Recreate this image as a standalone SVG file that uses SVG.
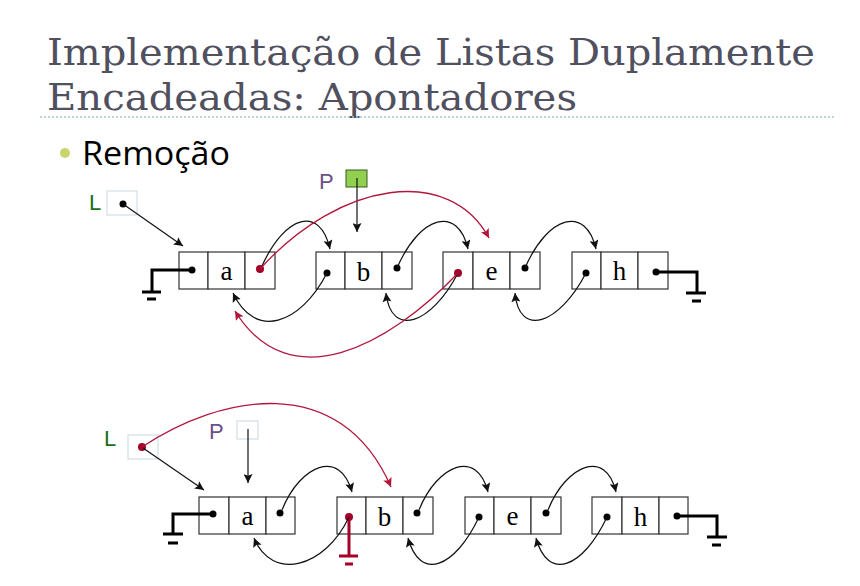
<svg xmlns="http://www.w3.org/2000/svg" width="860" height="586" viewBox="0 0 860 586">
<style>
.title{font-family:"DejaVu Serif","Liberation Serif",serif;font-size:38px;fill:#50505f}
.cell{fill:#fff;stroke:#333;stroke-width:1.2}
.val{font-family:"Liberation Serif","Times New Roman",serif;font-size:27px;fill:#000;text-anchor:middle}
.lnk{fill:none;stroke:#111;stroke-width:1.2}
.rlnk{fill:none;stroke:#b3163b;stroke-width:1.3}
.gnd{fill:none;stroke:#000;stroke-width:3}
.rgnd{fill:none;stroke:#a5002a;stroke-width:3}
.dot{fill:#000}
.rdot{fill:#a5002a}
.lbl{font-family:"Liberation Sans","Open Sans",sans-serif;font-size:22px}
.vbox{fill:none;stroke:#d3dee6;stroke-width:1.2}
</style>
<defs>
<marker id="ab" viewBox="0 0 10 10" refX="10" refY="5" markerWidth="9" markerHeight="9" markerUnits="userSpaceOnUse" orient="auto"><path d="M0,0 L10,5 L0,10 L2,5 z" fill="#111"/></marker>
<marker id="ar" viewBox="0 0 10 10" refX="10" refY="5" markerWidth="9" markerHeight="9" markerUnits="userSpaceOnUse" orient="auto"><path d="M0,0 L10,5 L0,10 L2,5 z" fill="#b3163b"/></marker>
</defs>
<rect width="860" height="586" fill="#fff"/>
<text class="title" x="47" y="65" textLength="768" lengthAdjust="spacingAndGlyphs">Implementação de Listas Duplamente</text>
<text class="title" x="47" y="110" textLength="530" lengthAdjust="spacingAndGlyphs">Encadeadas: Apontadores</text>
<line x1="40" y1="117" x2="836" y2="117" stroke="#a9c2d8" stroke-width="1.5" stroke-dasharray="2,2"/>
<circle cx="65" cy="153" r="5" fill="#c8d56e"/>
<text x="82" y="165" font-family="'Open Sans','Liberation Sans',sans-serif" font-size="33" fill="#000" textLength="148" lengthAdjust="spacingAndGlyphs">Remoção</text>

<!-- top diagram nodes -->
<g id="t-a"><rect class="cell" x="179" y="252" width="29" height="37"/><rect class="cell" x="208" y="252" width="37" height="37"/><rect class="cell" x="245" y="252" width="30" height="37"/><text class="val" x="226.5" y="280">a</text><circle class="dot" cx="192" cy="270" r="3.5"/><circle class="rdot" cx="260" cy="269" r="4"/></g>
<g id="t-b"><rect class="cell" x="316" y="252" width="29" height="37"/><rect class="cell" x="345" y="252" width="37" height="37"/><rect class="cell" x="382" y="252" width="30" height="37"/><text class="val" x="363.5" y="281">b</text><circle class="dot" cx="327" cy="273" r="3.5"/><circle class="dot" cx="397" cy="268" r="3.5"/></g>
<g id="t-e"><rect class="cell" x="443" y="252" width="30" height="37"/><rect class="cell" x="473" y="252" width="37" height="37"/><rect class="cell" x="510" y="252" width="30" height="37"/><text class="val" x="491.5" y="280">e</text><circle class="rdot" cx="458" cy="273" r="4"/><circle class="dot" cx="525" cy="268" r="3.5"/></g>
<g id="t-h"><rect class="cell" x="572" y="252" width="29" height="37"/><rect class="cell" x="601" y="252" width="37" height="37"/><rect class="cell" x="638" y="252" width="30" height="37"/><text class="val" x="619.5" y="280">h</text><circle class="dot" cx="586" cy="273" r="3.5"/><circle class="dot" cx="656" cy="272" r="3.5"/></g>
<g id="t-L"><text class="lbl" x="89" y="210" fill="#1a6e1a">L</text><rect class="vbox" x="107" y="191" width="30" height="24"/><circle class="dot" cx="123" cy="204" r="3.5"/></g>
<g id="t-P"><text class="lbl" x="319" y="189" fill="#6b4f8a">P</text><rect x="346" y="170" width="21" height="17" fill="#92d050" stroke="#3a5a20" stroke-width="1"/></g>

<!-- bottom diagram nodes -->
<g id="b-a"><rect class="cell" x="199" y="497" width="30" height="37"/><rect class="cell" x="229" y="497" width="37" height="37"/><rect class="cell" x="266" y="497" width="29" height="37"/><text class="val" x="247.5" y="525">a</text><circle class="dot" cx="213" cy="514" r="3.5"/><circle class="dot" cx="280" cy="513" r="3.5"/></g>
<g id="b-b"><rect class="cell" x="337" y="497" width="29" height="37"/><rect class="cell" x="366" y="497" width="37" height="37"/><rect class="cell" x="403" y="497" width="30" height="37"/><text class="val" x="384.5" y="526">b</text><circle class="rdot" cx="349" cy="517" r="4"/><circle class="dot" cx="417" cy="513" r="3.5"/></g>
<g id="b-e"><rect class="cell" x="465" y="497" width="29" height="37"/><rect class="cell" x="494" y="497" width="37" height="37"/><rect class="cell" x="531" y="497" width="30" height="37"/><text class="val" x="512.5" y="525">e</text><circle class="dot" cx="479" cy="517" r="3.5"/><circle class="dot" cx="546" cy="513" r="3.5"/></g>
<g id="b-h"><rect class="cell" x="592" y="497" width="30" height="37"/><rect class="cell" x="622" y="497" width="37" height="37"/><rect class="cell" x="659" y="497" width="29" height="37"/><text class="val" x="640.5" y="526">h</text><circle class="dot" cx="607" cy="517" r="3.5"/><circle class="dot" cx="677" cy="516" r="3.5"/></g>
<g id="b-L"><text class="lbl" x="104" y="446" fill="#1a6e1a">L</text><rect class="vbox" x="128" y="435" width="30" height="24"/><circle class="rdot" cx="142" cy="447" r="4"/></g>
<g id="b-P"><text class="lbl" x="209" y="439" fill="#6b4f8a">P</text><rect class="vbox" x="237" y="421" width="21" height="18"/></g>

<g id="connectors">
<!-- grounds -->
<path class="gnd" d="M192,270 H152 V292 M142,292 H161 M147,299 H156"/>
<path class="gnd" d="M656,272 H697 V293 M686,293 H706 M692,301 H701"/>
<path class="gnd" d="M213,514 H173 V534 M163,534 H183 M168,543 H178"/>
<path class="gnd" d="M677,516 H717 V537 M707,537 H727 M712,545 H721"/>
<path class="rgnd" d="M349,517 V556 M339,556 H358 M345,564 H353"/>
<!-- top -->
<path class="lnk" d="M123,204 L183,246" marker-end="url(#ab)"/>
<path class="lnk" d="M357,178 V232" marker-end="url(#ab)"/>
<path class="lnk" d="M262,266 C285,215 320,205 330,249" marker-end="url(#ab)"/>
<path class="lnk" d="M397,268 C420,215 458,205 468,249" marker-end="url(#ab)"/>
<path class="lnk" d="M525,268 C548,215 586,205 596,249" marker-end="url(#ab)"/>
<path class="lnk" d="M327,273 C300,325 255,340 233,293" marker-end="url(#ab)"/>
<path class="lnk" d="M458,273 C431,325 391,338 386,293" marker-end="url(#ab)"/>
<path class="lnk" d="M586,273 C559,325 519,338 515,293" marker-end="url(#ab)"/>
<path class="rlnk" d="M260,269 C340,180 450,165 489,238" marker-end="url(#ar)"/>
<path class="rlnk" d="M458,273 C390,345 290,400 235,311" marker-end="url(#ar)"/>
<!-- bottom -->
<path class="lnk" d="M143,448 L204,490" marker-end="url(#ab)"/>
<path class="lnk" d="M248,429 V483" marker-end="url(#ab)"/>
<path class="lnk" d="M282,510 C300,465 340,448 352,492" marker-end="url(#ab)"/>
<path class="lnk" d="M419,510 C437,465 477,448 488,492" marker-end="url(#ab)"/>
<path class="lnk" d="M548,510 C566,465 606,448 616,492" marker-end="url(#ab)"/>
<path class="lnk" d="M349,517 C325,568 272,582 254,538" marker-end="url(#ab)"/>
<path class="lnk" d="M479,517 C455,568 420,582 408,538" marker-end="url(#ab)"/>
<path class="lnk" d="M607,517 C583,568 548,582 536,538" marker-end="url(#ab)"/>
<path class="rlnk" d="M142,447 C220,395 340,370 391,487" marker-end="url(#ar)"/>
</g>
</svg>
